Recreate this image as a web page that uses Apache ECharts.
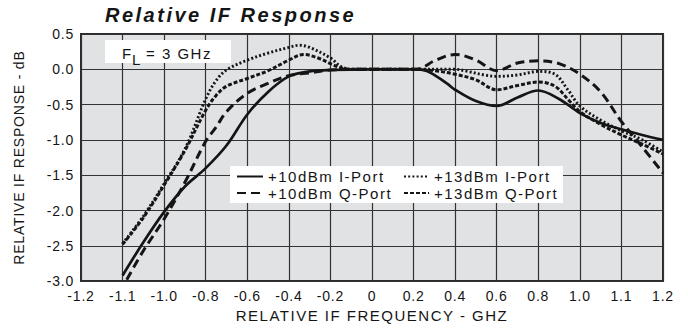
<!DOCTYPE html>
<html>
<head>
<meta charset="utf-8">
<script src="https://cdn.jsdelivr.net/npm/echarts@6/dist/echarts.min.js"></script>
<style>
  html, body { margin: 0; padding: 0; background: #ffffff; }
  #chart { width: 688px; height: 328px; }
  #chart text { letter-spacing: 0.8px; }
  #chart text[style*="15px"] { letter-spacing: 1.5px; }
  #chart text[style*="20px"] { letter-spacing: 2.5px; }
</style>
</head>
<body>
<div id="chart"></div>
<script>
// ---- tick labels (axis is evenly spaced per tick, not linear in GHz) ----
const xTickFreqs  = [-1.2, -1.1, -1.0, -0.8, -0.6, -0.4, -0.2, 0, 0.2, 0.4, 0.6, 0.8, 1.0, 1.1, 1.2];
const xTickLabels = ['-1.2', '-1.1', '-1.0', '-0.8', '-0.6', '-0.4', '-0.2', '0', '0.2', '0.4', '0.6', '0.8', '1.0', '1.1', '1.2'];

// ---- +10dBm I-Port (solid) ----
const freq10I = [-1.1, -1.05, -1.0, -0.9, -0.8, -0.7, -0.6, -0.5, -0.4, -0.3, -0.2, 0, 0.2, 0.26, 0.36, 0.4, 0.5, 0.6, 0.7, 0.8, 0.9, 1.0, 1.05, 1.1, 1.15, 1.2];
const resp10I = [-2.92, -2.45, -2.02, -1.66, -1.40, -1.08, -0.64, -0.32, -0.10, -0.03, -0.01, 0, 0, -0.02, -0.2, -0.29, -0.45, -0.52, -0.40, -0.30, -0.42, -0.62, -0.76, -0.85, -0.93, -1.0];

// ---- +10dBm Q-Port (long dash) ----
const freq10Q = [-1.09, -1.05, -1.0, -0.9, -0.8, -0.75, -0.7, -0.6, -0.5, -0.4, -0.3, -0.2, 0, 0.2, 0.24, 0.3, 0.4, 0.5, 0.6, 0.7, 0.8, 0.9, 1.0, 1.05, 1.1, 1.15, 1.2];
const resp10Q = [-2.98, -2.57, -2.12, -1.60, -1.02, -0.82, -0.60, -0.34, -0.20, -0.09, -0.05, -0.01, 0, 0, 0.02, 0.12, 0.21, 0.13, -0.02, 0.09, 0.12, 0.08, -0.07, -0.32, -0.74, -1.1, -1.47];

// ---- +13dBm I-Port (dotted) ----
const freq13I = [-1.1, -1.05, -1.0, -0.9, -0.8, -0.75, -0.7, -0.6, -0.5, -0.4, -0.35, -0.3, -0.2, -0.15, -0.1, 0, 0.2, 0.4, 0.46, 0.54, 0.6, 0.7, 0.8, 0.88, 0.94, 1.0, 1.05, 1.1, 1.15, 1.2];
const resp13I = [-2.47, -2.08, -1.62, -1.13, -0.42, -0.16, -0.01, 0.13, 0.23, 0.31, 0.34, 0.31, 0.16, 0.04, 0.0, 0, 0, 0, -0.03, -0.08, -0.1, -0.08, -0.03, -0.07, -0.28, -0.52, -0.72, -0.87, -1.0, -1.17];

// ---- +13dBm Q-Port (short dash) ----
const freq13Q = [-1.1, -1.05, -1.0, -0.9, -0.8, -0.75, -0.7, -0.6, -0.5, -0.4, -0.33, -0.25, -0.2, -0.15, -0.1, 0, 0.2, 0.3, 0.4, 0.5, 0.6, 0.7, 0.8, 0.88, 0.95, 1.0, 1.05, 1.1, 1.15, 1.2];
const resp13Q = [-2.48, -2.10, -1.64, -1.15, -0.58, -0.37, -0.24, -0.13, -0.02, 0.13, 0.21, 0.15, 0.08, 0.02, 0, 0, 0, -0.02, -0.07, -0.15, -0.29, -0.23, -0.18, -0.24, -0.45, -0.6, -0.78, -0.93, -1.06, -1.2];

const yTickStep = 0.5;

// map a GHz value onto the tick-indexed axis (piecewise along the tick list)
function freqToPos(f) {
  for (let i = 0; i < xTickFreqs.length - 1; i++) {
    if (f <= xTickFreqs[i + 1] + 1e-9) {
      return i + (f - xTickFreqs[i]) / (xTickFreqs[i + 1] - xTickFreqs[i]);
    }
  }
  return xTickFreqs.length - 1;
}
function pairs(fs, vs) { return fs.map((f, i) => [freqToPos(f), vs[i]]); }

const FONT = 'Liberation Sans';
const INK = '#151515';

const chart = echarts.init(document.getElementById('chart'), null, { renderer: 'svg' });

function lineSeries(name, data, width, type) {
  return {
    name: name,
    type: 'line',
    data: data,
    smooth: 0.35,
    symbol: 'none',
    lineStyle: { color: INK, width: width, type: type, cap: 'butt' },
    itemStyle: { color: INK },
    z: 3
  };
}

const legendCommon = {
  orient: 'vertical', top: 169, padding: 0,
  itemHeight: 14, itemGap: 1.5, z: 20,
  itemStyle: { color: 'rgba(0,0,0,0)', borderColor: 'rgba(0,0,0,0)', borderWidth: 0, opacity: 0 },
  textStyle: { fontFamily: FONT, fontSize: 15, lineHeight: 15, color: INK }
};

chart.setOption({
  animation: false,
  backgroundColor: '#ffffff',
  title: {
    text: 'Relative IF Response',
    left: 105,
    top: 5,
    padding: 0,
    textStyle: { fontFamily: FONT, fontSize: 20, fontWeight: 'bold', fontStyle: 'italic', color: INK }
  },
  grid: {
    left: 81, right: 25, top: 34, bottom: 40,
    show: true,
    backgroundColor: '#e1e2e4',
    borderColor: '#2b2b2b',
    borderWidth: 2
  },
  xAxis: {
    type: 'value',
    min: 0,
    max: xTickFreqs.length - 1,
    interval: 1,
    name: 'RELATIVE IF FREQUENCY - GHZ',
    nameLocation: 'middle',
    nameGap: 26,
    nameTextStyle: { fontFamily: FONT, fontSize: 15, color: INK },
    axisLine: { show: false },
    axisTick: { show: false },
    axisLabel: {
      margin: 8,
      fontFamily: FONT, fontSize: 14, color: INK,
      formatter: v => xTickLabels[Math.round(v)]
    },
    splitLine: { show: true, lineStyle: { color: '#333333', width: 1.2 } }
  },
  yAxis: {
    type: 'value',
    min: -3,
    max: 0.5,
    interval: yTickStep,
    name: 'RELATIVE IF RESPONSE - dB',
    nameLocation: 'middle',
    nameGap: 55,
    nameTextStyle: { fontFamily: FONT, fontSize: 14, color: INK },
    axisLine: { show: false },
    axisTick: { show: false },
    axisLabel: {
      margin: 7,
      fontFamily: FONT, fontSize: 14, color: INK,
      formatter: v => v.toFixed(1)
    },
    splitLine: { show: true, lineStyle: { color: '#333333', width: 1.2 } }
  },
  legend: [
    Object.assign({}, legendCommon, { left: 236, itemWidth: 26, data: ['+10dBm I-Port', '+10dBm Q-Port'] }),
    Object.assign({}, legendCommon, { left: 403, itemWidth: 25, data: ['+13dBm I-Port', '+13dBm Q-Port'] })
  ],
  graphic: [
    { type: 'rect', z: 10, shape: { x: 230, y: 166, width: 333, height: 37 }, style: { fill: '#ffffff' } },
    { type: 'rect', z: 10, shape: { x: 105, y: 40, width: 126, height: 23 }, style: { fill: '#ffffff' } },
    { type: 'text', z: 11, left: 122, top: 46, style: { text: 'F', font: '15px "Liberation Sans"', fill: INK } },
    { type: 'text', z: 11, left: 132, top: 52, style: { text: 'L', font: '15px "Liberation Sans"', fill: INK } },
    { type: 'text', z: 11, left: 146, top: 46, style: { text: '= 3 GHz', font: '15px "Liberation Sans"', fill: INK } }
  ],
  series: [
    lineSeries('+10dBm I-Port', pairs(freq10I, resp10I), 2.7, 'solid'),
    lineSeries('+10dBm Q-Port', pairs(freq10Q, resp10Q), 3, [9, 5]),
    lineSeries('+13dBm I-Port', pairs(freq13I, resp13I), 2.9, [2, 2.2]),
    lineSeries('+13dBm Q-Port', pairs(freq13Q, resp13Q), 3, [4, 2])
  ]
});
</script>
</body>
</html>
